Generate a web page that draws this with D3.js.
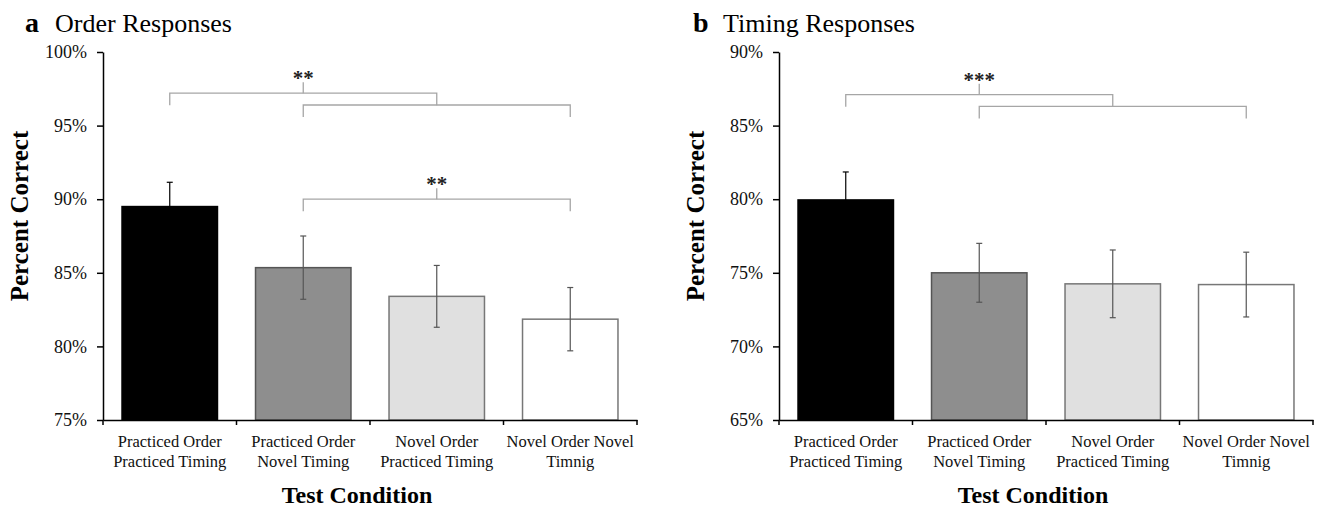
<!DOCTYPE html>
<html>
<head>
<meta charset="utf-8">
<script src="https://cdn.jsdelivr.net/npm/d3@7/dist/d3.min.js"></script>
<style>
  body { margin: 0; background: #fff; }
  svg { display: block; font-family: "Liberation Serif", "Times New Roman", serif; }
</style>
</head>
<body>
<svg width="1319" height="509"></svg>
<script>
// data
const categories = [
  ["Practiced Order", "Practiced Timing"],
  ["Practiced Order", "Novel Timing"],
  ["Novel Order", "Practiced Timing"],
  ["Novel Order Novel", "Timnig"]
]
const barColors = ["#000000", "#8e8e8e", "#e0e0e0", "#ffffff"]
const barStrokes = ["#000000", "#555555", "#777777", "#777777"]

const orderMeans = [89.5, 85.35, 83.4, 81.85]
const orderSE = [1.65, 2.15, 2.1, 2.15]
const orderTicks = [75, 80, 85, 90, 95, 100]
// from/to are category indexes, level is in percent
const orderBrackets = [
  {from: 0, to: 2, level: 97.2, stars: "**"},
  {from: 1, to: 3, level: 96.4, stars: ""},
  {from: 1, to: 3, level: 90.0, stars: "**"}
]

const timingMeans = [79.95, 75.0, 74.25, 74.2]
const timingSE = [1.9, 2.0, 2.3, 2.2]
const timingTicks = [65, 70, 75, 80, 85, 90]
const timingBrackets = [
  {from: 0, to: 2, level: 87.1, stars: "***"},
  {from: 1, to: 3, level: 86.3, stars: ""}
]

const svg = d3.select("svg")

function drawPanel(p) {
  const g = svg.append("g")

  const x = d3.scaleBand()
    .domain(d3.range(categories.length))
    .range([p.left, p.right])
    .paddingInner(0.285)
    .paddingOuter(0.1425)

  const y = d3.scaleLinear()
    .domain(d3.extent(p.ticks))
    .range([420, 52])

  const cx = i => x(Math.floor(i)) + x.bandwidth() / 2 + (i % 1) * x.step()

  // title
  g.append("text").attr("x", p.titleX).attr("y", 32)
    .attr("font-size", 28).attr("font-weight", "bold").text(p.letter)
  g.append("text").attr("x", p.titleX + 30).attr("y", 32)
    .attr("font-size", 26).text(p.title)

  // bars
  g.selectAll("rect.bar")
    .data(p.means)
    .join("rect")
    .attr("class", "bar")
    .attr("x", (d, i) => x(i))
    .attr("y", d => y(d))
    .attr("width", x.bandwidth())
    .attr("height", d => y(y.domain()[0]) - y(d))
    .attr("fill", (d, i) => barColors[i])
    .attr("stroke", (d, i) => barStrokes[i])
    .attr("stroke-width", 1.5)

  // error bars
  const eb = g.selectAll("g.err")
    .data(p.means.map((m, i) => ({m: m, se: p.se[i], i: i})))
    .join("g")
    .attr("class", "err")
    .attr("stroke", d => d.i == 0 ? "#000" : "#555")
    .attr("stroke-width", 1.2)
  eb.append("line")
    .attr("x1", d => cx(d.i)).attr("x2", d => cx(d.i))
    .attr("y1", d => y(d.m + d.se)).attr("y2", d => y(d.m - d.se))
  eb.append("line")
    .attr("x1", d => cx(d.i) - 3).attr("x2", d => cx(d.i) + 3)
    .attr("y1", d => y(d.m + d.se)).attr("y2", d => y(d.m + d.se))
  eb.append("line")
    .attr("x1", d => cx(d.i) - 3).attr("x2", d => cx(d.i) + 3)
    .attr("y1", d => y(d.m - d.se)).attr("y2", d => y(d.m - d.se))

  // significance brackets
  p.brackets.forEach(b => {
    const x1 = cx(b.from), x2 = cx(b.to), yy = y(b.level)
    g.append("path")
      .attr("d", "M" + x1 + "," + (yy + 12) + "V" + yy + "H" + x2 + "V" + (yy + 12))
      .attr("fill", "none")
      .attr("stroke", "#a6a6a6")
      .attr("stroke-width", 1.3)
    if (b.stars) {
      const xm = (x1 + x2) / 2
      g.append("line")
        .attr("x1", xm).attr("x2", xm)
        .attr("y1", yy).attr("y2", yy - 11)
        .attr("stroke", "#a6a6a6").attr("stroke-width", 1.3)
      g.append("text")
        .attr("x", xm).attr("y", yy - 8)
        .attr("text-anchor", "middle")
        .attr("font-size", 21).attr("font-weight", "bold")
        .attr("fill", "#222")
        .text(b.stars)
    }
  })

  // y axis
  const yAxis = g.append("g")
    .attr("transform", "translate(" + p.left + ",0)")
    .call(d3.axisLeft(y).tickValues(p.ticks).tickFormat(d => d + "%").tickSize(6).tickSizeOuter(0))
  yAxis.select(".domain").attr("stroke", "#000").attr("stroke-width", 1.5)
  yAxis.selectAll(".tick line").attr("stroke", "#000").attr("stroke-width", 1.5)
  yAxis.selectAll(".tick text")
    .attr("x", -16)
    .attr("font-family", "Liberation Serif, Times New Roman, serif")
    .attr("font-size", 18).attr("fill", "#111")

  // x axis
  const xAxis = g.append("g")
    .attr("transform", "translate(0,420)")
    .call(d3.axisBottom(x).tickSize(0).tickSizeOuter(0).tickFormat(""))
  xAxis.select(".domain").attr("stroke", "#000").attr("stroke-width", 1.5)
  xAxis.selectAll(".tick").remove()
  xAxis.selectAll("line.bound")
    .data(d3.range(categories.length + 1))
    .join("line")
    .attr("class", "bound")
    .attr("x1", i => p.left + i * x.step()).attr("x2", i => p.left + i * x.step())
    .attr("y1", 0).attr("y2", 5)
    .attr("stroke", "#000").attr("stroke-width", 1.5)

  const lab = g.selectAll("text.cat")
    .data(categories)
    .join("text")
    .attr("class", "cat")
    .attr("text-anchor", "middle")
    .attr("font-size", 16.5)
    .attr("fill", "#111")
  lab.selectAll("tspan")
    .data((d, i) => d.map(s => ({s: s, i: i})))
    .join("tspan")
    .attr("x", d => cx(d.i))
    .attr("y", (d, j) => 447 + j * 20)
    .text(d => d.s)

  // axis titles
  g.append("text")
    .attr("x", p.left + 254).attr("y", 503)
    .attr("text-anchor", "middle")
    .attr("font-size", 24).attr("font-weight", "bold")
    .text("Test Condition")
  g.append("text")
    .attr("transform", "translate(" + (p.left - 75) + ",216) rotate(-90)")
    .attr("text-anchor", "middle")
    .attr("font-size", 25).attr("font-weight", "bold")
    .text("Percent Correct")
}

drawPanel({letter: "a", title: "Order Responses", titleX: 25, left: 103, right: 637,
  means: orderMeans, se: orderSE, ticks: orderTicks, brackets: orderBrackets})
drawPanel({letter: "b", title: "Timing Responses", titleX: 693, left: 779, right: 1313,
  means: timingMeans, se: timingSE, ticks: timingTicks, brackets: timingBrackets})
</script>
</body>
</html>
